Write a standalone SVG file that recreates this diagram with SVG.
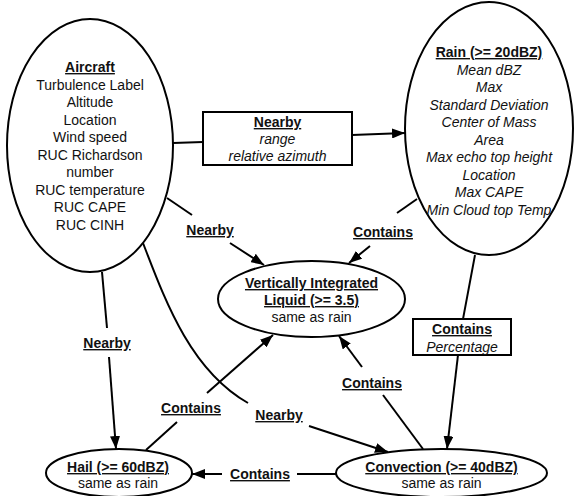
<svg xmlns="http://www.w3.org/2000/svg" width="575" height="496" viewBox="0 0 575 496">
<defs>
<style>
text{font-family:"Liberation Sans",Arial,Helvetica,sans-serif;font-size:14px;fill:#111;text-anchor:middle}
.h{font-weight:bold;text-decoration:underline}
.i{font-style:italic}
.n{fill:#fff;stroke:#000;stroke-width:2}
.c{fill:none;stroke:#000;stroke-width:2}
.a{marker-end:url(#ah)}
</style>
<marker id="ah" markerUnits="userSpaceOnUse" markerWidth="14" markerHeight="10" refX="13" refY="5" orient="auto">
<path d="M0,0 L13,5 L0,10 z" fill="#000"/>
</marker>
</defs>
<rect width="575" height="496" fill="#fff"/>
<g id="connectors">
<line class="c" x1="173" y1="143" x2="203" y2="142"/>
<line class="c a" x1="352" y1="135" x2="405" y2="133"/>
<line class="c" x1="167" y1="198" x2="192" y2="215"/>
<line class="c a" x1="230" y1="243" x2="264" y2="265"/>
<line class="c" x1="417" y1="199" x2="397" y2="213"/>
<line class="c a" x1="370" y1="246" x2="349" y2="263"/>
<line class="c" x1="102" y1="272" x2="107" y2="328"/>
<line class="c a" x1="109" y1="357" x2="116" y2="449"/>
<line class="c" x1="146" y1="450" x2="177" y2="422"/>
<line class="c a" x1="207" y1="393" x2="273" y2="335"/>
<path class="c" d="M143,243 C165,300 190,370 248,403"/>
<line class="c a" x1="309" y1="426" x2="388" y2="452"/>
<line class="c" x1="475" y1="255" x2="463" y2="319"/>
<line class="c a" x1="458" y1="355" x2="447" y2="449"/>
<line class="c" x1="423" y1="449" x2="383" y2="395"/>
<line class="c a" x1="362" y1="367" x2="339" y2="336"/>
<line class="c" x1="336" y1="474" x2="297" y2="474"/>
<line class="c a" x1="222" y1="474" x2="192" y2="474"/>
<text class="h" x="210" y="235">Nearby</text>
<text class="h" x="383" y="237">Contains</text>
<text class="h" x="107" y="348">Nearby</text>
<text class="h" x="191" y="413">Contains</text>
<text class="h" x="279" y="420">Nearby</text>
<text class="h" x="372" y="388">Contains</text>
<text class="h" x="260" y="479">Contains</text>
<g id="nearby-box">
<rect class="n" x="203" y="112" width="149" height="53"/>
<text class="h" x="277.5" y="127">Nearby</text>
<text class="i" x="277.5" y="144">range</text>
<text class="i" x="277.5" y="161">relative azimuth</text>
</g>
<g id="contains-box">
<rect class="n" x="413" y="319" width="98" height="36"/>
<text class="h" x="462" y="334">Contains</text>
<text class="i" x="462" y="352">Percentage</text>
</g>
</g>
<g id="aircraft">
<ellipse class="n" cx="90" cy="145.5" rx="83" ry="126.5"/>
<text x="90" y="72"><tspan class="h">Aircraft</tspan><tspan x="90" dy="17.5">Turbulence Label</tspan><tspan x="90" dy="17.5">Altitude</tspan><tspan x="90" dy="17.5">Location</tspan><tspan x="90" dy="17.5">Wind speed</tspan><tspan x="90" dy="17.5">RUC Richardson</tspan><tspan x="90" dy="17.5">number</tspan><tspan x="90" dy="17.5">RUC temperature</tspan><tspan x="90" dy="17.5">RUC CAPE</tspan><tspan x="90" dy="17.5">RUC CINH</tspan></text>
</g>
<g id="rain">
<ellipse class="n" cx="489" cy="128.5" rx="84" ry="126.5"/>
<text x="489" y="57"><tspan class="h">Rain (&gt;= 20dBZ)</tspan><tspan class="i" x="489" dy="17.5">Mean dBZ</tspan><tspan class="i" x="489" dy="17.5">Max</tspan><tspan class="i" x="489" dy="17.5">Standard Deviation</tspan><tspan class="i" x="489" dy="17.5">Center of Mass</tspan><tspan class="i" x="489" dy="17.5">Area</tspan><tspan class="i" x="489" dy="17.5">Max echo top height</tspan><tspan class="i" x="489" dy="17.5">Location</tspan><tspan class="i" x="489" dy="17.5">Max CAPE</tspan><tspan class="i" x="489" dy="17.5">Min Cloud top Temp</tspan></text>
</g>
<g id="vil">
<ellipse class="n" cx="311.5" cy="299" rx="93.5" ry="38"/>
<text class="h" x="311.5" y="288">Vertically Integrated</text>
<text class="h" x="311.5" y="305">Liquid (&gt;= 3.5)</text>
<text x="311.5" y="322">same as rain</text>
</g>
<g id="hail">
<ellipse class="n" cx="119" cy="473" rx="73" ry="24"/>
<text class="h" x="118" y="472">Hail (&gt;= 60dBZ)</text>
<text x="118" y="488">same as rain</text>
</g>
<g id="convection">
<ellipse class="n" cx="441.5" cy="473" rx="105.5" ry="24"/>
<text class="h" x="441.5" y="472">Convection (&gt;= 40dBZ)</text>
<text x="441.5" y="488">same as rain</text>
</g>
</svg>
